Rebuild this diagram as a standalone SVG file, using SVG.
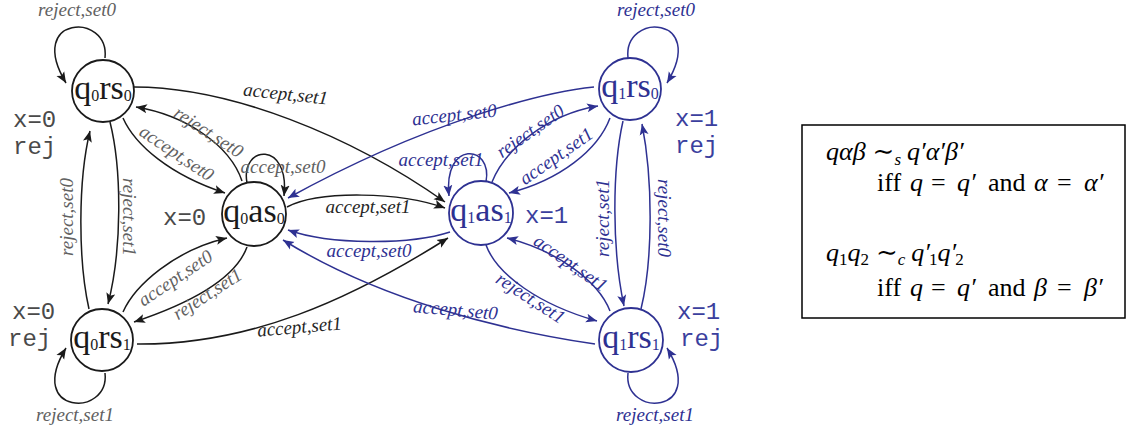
<svg xmlns="http://www.w3.org/2000/svg" width="1129" height="431" viewBox="0 0 1129 431">
<style>
.nk{fill:#fff;stroke:#1a1a1a;stroke-width:1.8}
.nb{fill:#fff;stroke:#2e3192;stroke-width:1.8}
.nt{font-family:"Liberation Serif",serif;font-size:34px;text-anchor:middle}
.sb{font-size:16px}
.tk{fill:#1a1a1a}
.tb{fill:#2e3192}
.ek{fill:none;stroke:#1a1a1a;stroke-width:1.5;marker-end:url(#ak)}
.eb{fill:none;stroke:#2e3192;stroke-width:1.5;marker-end:url(#ab)}
.l{font-family:"Liberation Serif",serif;font-style:italic;font-size:19px;text-anchor:middle}
.lg{fill:#616161}
.lk{fill:#262626}
.lb{fill:#2e3192}
.m{font-family:"Liberation Mono",monospace;font-size:24px}
.mk{fill:#4a4a4a}
.mb{fill:#3b3f9e}
.tx{font-family:"Liberation Serif","DejaVu Serif",serif;font-size:26px;fill:#000}
.it{font-style:italic}
.sm{font-size:17px}
.sim{font-family:"DejaVu Serif",serif;font-size:26px;font-style:normal}
</style>
<defs>
<marker id="ak" markerUnits="userSpaceOnUse" markerWidth="12" markerHeight="10" viewBox="0 0 12 10" refX="11" refY="5" orient="auto">
<path d="M0,0.5 L11,5 L0,9.5 L2.5,5 z" fill="#1a1a1a"/>
</marker>
<marker id="ab" markerUnits="userSpaceOnUse" markerWidth="12" markerHeight="10" viewBox="0 0 12 10" refX="11" refY="5" orient="auto">
<path d="M0,0.5 L11,5 L0,9.5 L2.5,5 z" fill="#2e3192"/>
</marker>
</defs>

<g id="connectors">
<path class="ek" d="M105,58 C110,12 25,15 66,83"/>
<path class="ek" d="M134,87 C230,87 350,135 445,202"/>
<path class="ek" d="M123,118 C135,145 170,175 225,193"/>
<path class="ek" d="M242,181 C230,145 185,115 136,107"/>
<path class="ek" d="M247,183 C240,145 290,140 284,196"/>
<path class="ek" d="M287,207 C320,190 400,192 445,208"/>
<path class="ek" d="M137,344 C250,345 350,300 448,238"/>
<path class="ek" d="M110,122 C122,170 122,250 108,304"/>
<path class="ek" d="M89,309 C78,260 78,180 90,131"/>
<path class="ek" d="M123,312 C135,285 175,250 227,238"/>
<path class="ek" d="M247,247 C235,280 185,305 134,322"/>
<path class="ek" d="M105,373 C110,418 25,415 66,348"/>
<path class="eb" d="M450,232 C410,245 330,245 288,230"/>
<path class="eb" d="M594,87 C545,92 430,120 288,198"/>
<path class="eb" d="M492,182 C505,150 545,115 598,106"/>
<path class="eb" d="M610,118 C598,150 560,180 509,193"/>
<path class="eb" d="M486,182 C493,144 443,140 449,196"/>
<path class="eb" d="M628,58 C623,12 708,15 667,83"/>
<path class="eb" d="M623,121 C612,170 612,250 624,306"/>
<path class="eb" d="M641,309 C653,260 653,180 642,124"/>
<path class="eb" d="M610,311 C598,280 555,250 507,238"/>
<path class="eb" d="M486,245 C497,275 540,305 597,321"/>
<path class="eb" d="M595,344 C500,330 380,300 283,240"/>
<path class="eb" d="M628,373 C623,418 708,415 667,348"/>

<text class="l lg" x="77" y="16">reject,set0</text>
<text class="l lk" transform="translate(285,100) rotate(6)">accept,set1</text>
<text class="l lg" transform="translate(176,154) rotate(34)" y="5">accept,set0</text>
<text class="l lg" transform="translate(208,133) rotate(33)" y="5">reject,set0</text>
<text class="l lg" x="283" y="173">accept,set0</text>
<text class="l lk" x="368" y="213">accept,set1</text>
<text class="l lb" x="369" y="257">accept,set0</text>
<text class="l lk" transform="translate(300,333) rotate(-5)">accept,set1</text>
<text class="l lg" transform="translate(128,217) rotate(90)" y="5">reject,set1</text>
<text class="l lg" transform="translate(68,217) rotate(-90)" y="5">reject,set0</text>
<text class="l lg" transform="translate(176,279) rotate(-34)" y="5">accept,set0</text>
<text class="l lg" transform="translate(208,295) rotate(-33)" y="5">reject,set1</text>
<text class="l lg" x="75" y="421">reject,set1</text>

<text class="l lb" transform="translate(455,121) rotate(-6)">accept,set0</text>
<text class="l lb" transform="translate(531,132) rotate(-35)" y="5">reject,set0</text>
<text class="l lb" transform="translate(557,157) rotate(-35)" y="5">accept,set1</text>
<text class="l lb" x="441" y="166">accept,set1</text>
<text class="l lb" x="656" y="16">reject,set0</text>
<text class="l lb" transform="translate(604,218) rotate(-90)" y="5">reject,set1</text>
<text class="l lb" transform="translate(663,218) rotate(90)" y="5">reject,set0</text>
<text class="l lb" transform="translate(570,264) rotate(35)" y="5">accept,set1</text>
<text class="l lb" transform="translate(530,299) rotate(33)" y="5">reject,set1</text>
<text class="l lb" transform="translate(455,316) rotate(5)">accept,set0</text>
<text class="l lb" x="655" y="421">reject,set1</text>
</g>

<g id="q0rs0">
<circle class="nk" cx="103" cy="91" r="31"/>
<text class="nt tk" x="103" y="99">q<tspan class="sb" dy="2">0</tspan><tspan dy="-2">rs</tspan><tspan class="sb" dy="2">0</tspan></text>
<text class="m mk" x="13" y="127">x=0</text>
<text class="m mk" x="13" y="154">rej</text>
</g>
<g id="q0as0">
<circle class="nk" cx="254" cy="214" r="32"/>
<text class="nt tk" x="254" y="222">q<tspan class="sb" dy="2">0</tspan><tspan dy="-2">as</tspan><tspan class="sb" dy="2">0</tspan></text>
<text class="m mk" x="163" y="225">x=0</text>
</g>
<g id="q0rs1">
<circle class="nk" cx="102" cy="340" r="31"/>
<text class="nt tk" x="102" y="348">q<tspan class="sb" dy="2">0</tspan><tspan dy="-2">rs</tspan><tspan class="sb" dy="2">1</tspan></text>
<text class="m mk" x="12" y="319">x=0</text>
<text class="m mk" x="8" y="346">rej</text>
</g>
<g id="q1as1">
<circle class="nb" cx="481" cy="213" r="32"/>
<text class="nt tb" x="481" y="221">q<tspan class="sb" dy="2">1</tspan><tspan dy="-2">as</tspan><tspan class="sb" dy="2">1</tspan></text>
<text class="m mb" x="525" y="223">x=1</text>
</g>
<g id="q1rs0">
<circle class="nb" cx="630" cy="89" r="31"/>
<text class="nt tb" x="630" y="97">q<tspan class="sb" dy="2">1</tspan><tspan dy="-2">rs</tspan><tspan class="sb" dy="2">0</tspan></text>
<text class="m mb" x="675" y="126">x=1</text>
<text class="m mb" x="675" y="153">rej</text>
</g>
<g id="q1rs1">
<circle class="nb" cx="631" cy="340" r="32"/>
<text class="nt tb" x="631" y="348">q<tspan class="sb" dy="2">1</tspan><tspan dy="-2">rs</tspan><tspan class="sb" dy="2">1</tspan></text>
<text class="m mb" x="677" y="319">x=1</text>
<text class="m mb" x="680" y="346">rej</text>
</g>

<g id="legend">
<rect x="802" y="125" width="323" height="193" fill="#fff" stroke="#000" stroke-width="1.5"/>
<text class="tx" x="826" y="160"><tspan class="it">qαβ</tspan><tspan class="sim" dx="7">∼</tspan><tspan class="it sm" dy="5">s</tspan><tspan class="it" dx="6" dy="-5">q′α′β′</tspan></text>

<text class="tx" x="877" y="191">iff</text>
<text class="tx it" x="910" y="191">q</text>
<text class="tx" x="931" y="191">=</text>
<text class="tx it" x="957" y="191">q′</text>
<text class="tx" x="988" y="191">and</text>
<text class="tx it" x="1034" y="191">α</text>
<text class="tx" x="1057" y="191">=</text>
<text class="tx it" x="1084" y="191">α′</text>

<text class="tx" x="826" y="261"><tspan class="it">q</tspan><tspan class="sm" dy="4">1</tspan><tspan class="it" dy="-4">q</tspan><tspan class="sm" dy="4">2</tspan><tspan class="sim" dx="7" dy="-4">∼</tspan><tspan class="it sm" dy="4">c</tspan><tspan class="it" dx="6" dy="-4">q′</tspan><tspan class="sm" dx="-1" dy="4">1</tspan><tspan class="it" dy="-4">q′</tspan><tspan class="sm" dx="-1" dy="4">2</tspan></text>

<text class="tx" x="877" y="296">iff</text>
<text class="tx it" x="910" y="296">q</text>
<text class="tx" x="931" y="296">=</text>
<text class="tx it" x="957" y="296">q′</text>
<text class="tx" x="988" y="296">and</text>
<text class="tx it" x="1034" y="296">β</text>
<text class="tx" x="1057" y="296">=</text>
<text class="tx it" x="1084" y="296">β′</text>
</g>
</svg>
